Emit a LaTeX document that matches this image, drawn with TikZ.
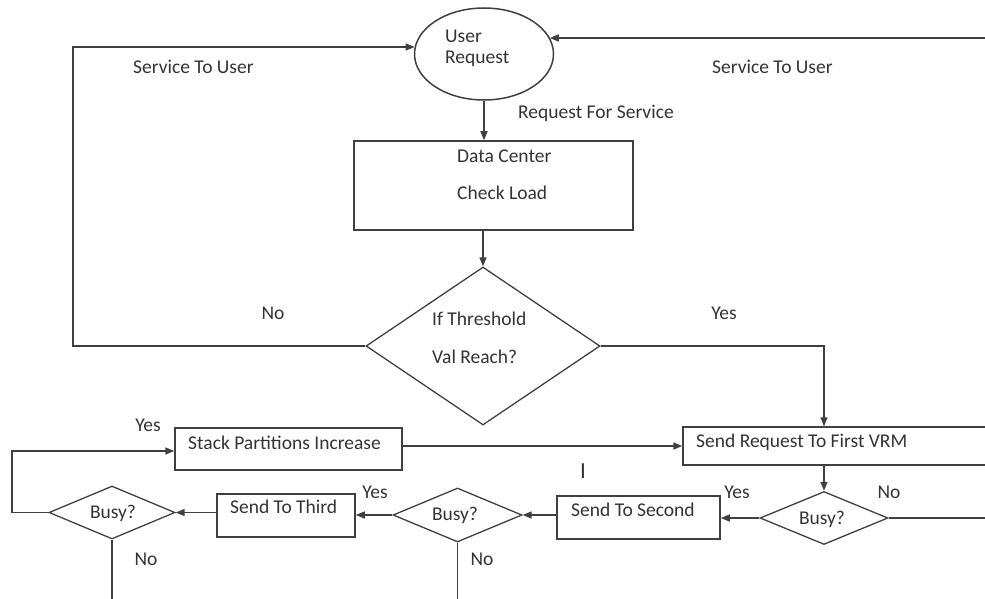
\documentclass[tikz,border=0pt]{standalone}
\usepackage{fontspec}
\setmainfont{Carlito}
\usetikzlibrary{shapes.geometric,arrows.meta}
\begin{document}
\begin{tikzpicture}[x=1pt,y=-1pt,
  line/.style={draw=black!75, line width=1.5pt},
  arr/.style={line, -{Triangle[length=9pt,width=7pt]}},
  boxnode/.style={draw=black!75,line width=1.5pt,rectangle,inner sep=0pt},
  dia/.style={draw=black!75,line width=1.3pt,diamond,inner sep=0pt},
  lbl/.style={text=black!80,font=\fontsize{19.5}{23}\selectfont,inner sep=0pt,anchor=base west},
  clbl/.style={lbl,anchor=base}]
\clip (0,0) rectangle (985,599);
% shapes
\node[draw=black!75,line width=1.5pt,ellipse,minimum width=139pt,minimum height=92pt,inner sep=0pt] (ur) at (484,54) {};
\node[boxnode,minimum width=279pt,minimum height=89pt] (dc) at (493.5,185.5) {};
\node[dia,minimum width=234pt,minimum height=158pt] (th) at (483,346) {};
\node[boxnode,minimum width=322pt,minimum height=38pt] (vrm) at (844,446) {};
\node[dia,minimum width=128pt,minimum height=53pt] (b1) at (824,518) {};
\node[boxnode,minimum width=163pt,minimum height=43pt] (s2) at (638.5,517.5) {};
\node[dia,minimum width=129pt,minimum height=54pt] (b2) at (457.5,515) {};
\node[boxnode,minimum width=138pt,minimum height=43pt] (s3) at (286,515.5) {};
\node[dia,minimum width=126pt,minimum height=53pt] (b3) at (112,512.5) {};
\node[boxnode,minimum width=227pt,minimum height=42pt] (sp) at (288.5,449) {};
% free ends
\coordinate (cl) at (73,47);
\coordinate (cr) at (995,38);
\coordinate (cb) at (12,451);
\coordinate (e1) at (995,518);
\coordinate (e2) at (458,610);
\coordinate (e3) at (114,610);
% connectors
\draw[arr] (th.west) -| (cl) -- (cl -| ur.174);
\draw[arr] (cr) -- (cr -| ur.14);
\draw[arr] (ur.south) -- (ur.south |- dc.north);
\draw[arr] (th.north |- dc.south) -- (th.north);
\draw[arr] (th.east) -| (b1.north |- vrm.north);
\draw[arr] (b1.north |- vrm.south) -- (b1.north);
\draw[line] (b1.east) -- (e1);
\draw[arr] (b1.west) -- (b1.west -| s2.east);
\draw[arr] (b2.east -| s2.west) -- (b2.east);
\draw[arr] (b2.west) -- (b2.west -| s3.east);
\draw[arr] (b3.east -| s3.west) -- (b3.east);
\draw[arr] (b3.west) -| (cb) -- (cb -| sp.west);
\draw[arr] (sp.east |- vrm.west) -- (vrm.west);
\draw[line] (b2.south) -- (b2.south |- e2);
\draw[line] (b3.south) -- (b3.south |- e3);
% texts
\node[lbl] (t1) at (133,74) {Service To User};
\node[lbl] (t2) at (712,74) {Service To User};
\node[lbl] (t3) at (518,119) {Request For Service};
\node[lbl] (t4) at (445,43) {User};
\node[lbl] (t5) at (445,64) {Request};
\node[lbl] (t6) at (457,162) {Data Center};
\node[lbl] (t7) at (457,199) {Check Load};
\node[clbl] (t8) at (273,319) {No};
\node[clbl] (t9) at (724,319) {Yes};
\node[lbl] (t10) at (432,325) {If Threshold};
\node[lbl] (t11) at (432,363) {Val Reach?};
\node[clbl] (t12) at (148,431) {Yes};
\node[lbl] (t13) at (188,449) {Stack Partitions Increase};
\node[lbl] (t14) at (696,447) {Send Request To First VRM};
\node[clbl,font=\fontsize{23}{26}\selectfont] (t15) at (583,478) {I};
\node[clbl] (t16) at (375,498) {Yes};
\node[clbl] (t17) at (737,498) {Yes};
\node[clbl] (t18) at (889,498) {No};
\node[lbl] (t19) at (230,513) {Send To Third};
\node[lbl] (t20) at (571,516) {Send To Second};
\node[clbl] (t21) at (113,518) {Busy?};
\node[clbl] (t22) at (455,520) {Busy?};
\node[clbl] (t23) at (822,524) {Busy?};
\node[clbl] (t24) at (146,565) {No};
\node[clbl] (t25) at (482,565) {No};
\end{tikzpicture}
\end{document}
